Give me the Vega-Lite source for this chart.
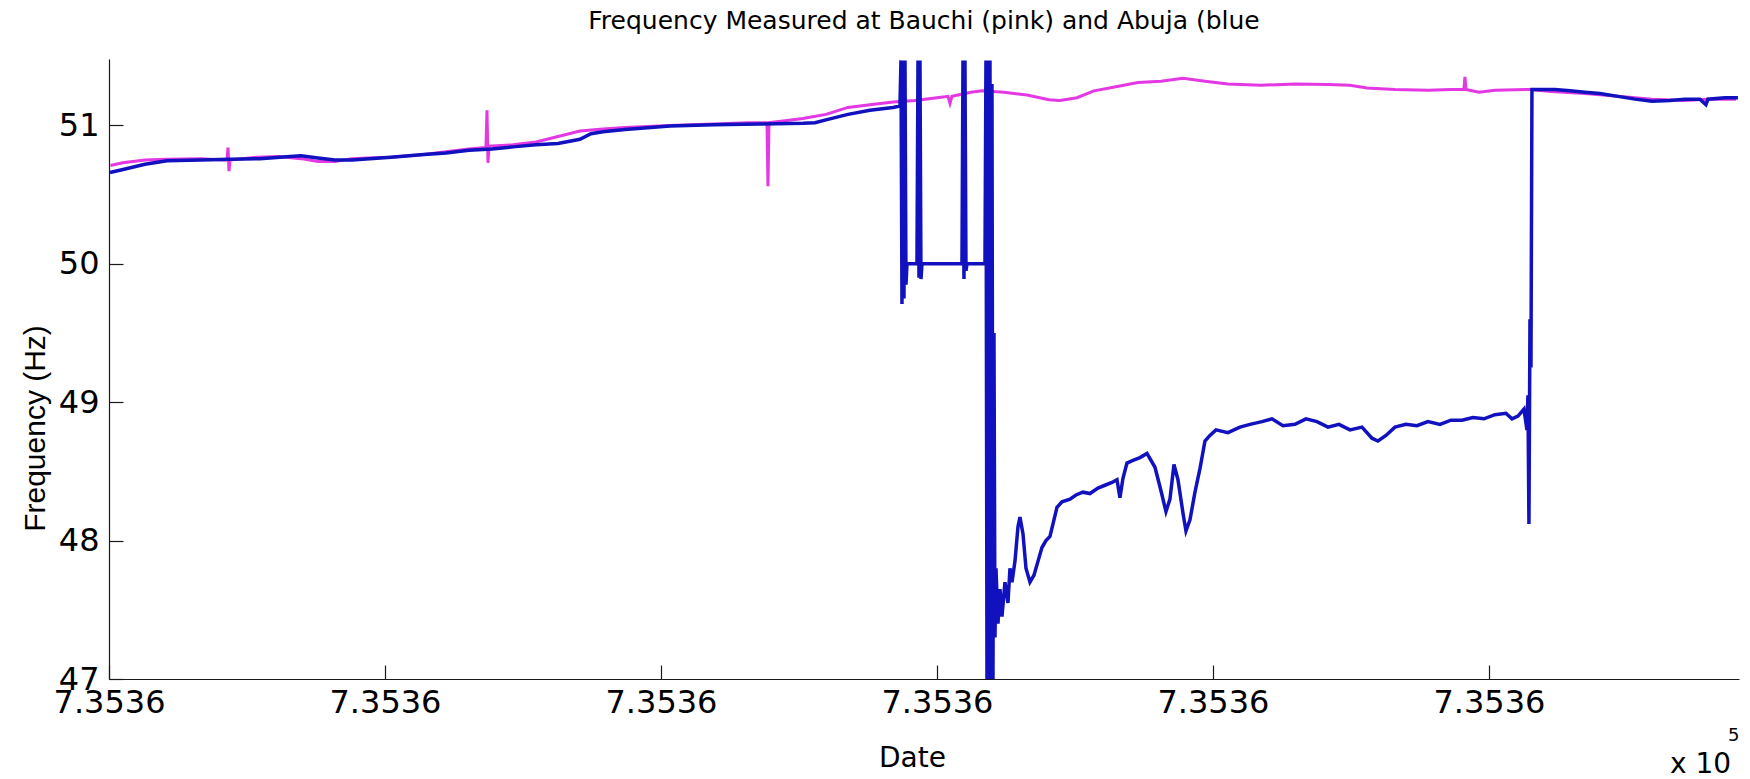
{
  "$schema": "https://vega.github.io/schema/vega-lite/v6.json",
  "width": 1630,
  "height": 620,
  "autosize": {"type": "none"},
  "padding": {"left": 109, "top": 59, "right": 11, "bottom": 100},
  "background": "white",
  "view": {"stroke": null},
  "title": {
    "text": "Frequency Measured at Bauchi (pink) and Abuja (blue",
    "font": "DejaVu Sans",
    "fontSize": 25,
    "fontWeight": "normal",
    "color": "black",
    "anchor": "middle",
    "baseline": "alphabetic",
    "offset": 24,
    "dy": 19
  },
  "config": {
    "axis": {
      "grid": false,
      "domainColor": "#1a1a1a",
      "domainWidth": 1.2,
      "tickColor": "#1a1a1a",
      "tickWidth": 1.2,
      "labelFont": "DejaVu Sans",
      "labelFontSize": 32,
      "labelColor": "black",
      "titleFont": "DejaVu Sans",
      "titleFontWeight": "normal",
      "titleColor": "black"
    }
  },
  "datasets": {
    "freq": [
      {"site": "Bauchi", "date": 735361.00054, "freq": 50.71},
      {"site": "Bauchi", "date": 735361.00500, "freq": 50.73},
      {"site": "Bauchi", "date": 735361.01304, "freq": 50.75},
      {"site": "Bauchi", "date": 735361.02101, "freq": 50.755},
      {"site": "Bauchi", "date": 735361.03333, "freq": 50.76},
      {"site": "Bauchi", "date": 735361.04130, "freq": 50.75},
      {"site": "Bauchi", "date": 735361.04275, "freq": 50.75},
      {"site": "Bauchi", "date": 735361.04312, "freq": 50.84},
      {"site": "Bauchi", "date": 735361.04348, "freq": 50.67},
      {"site": "Bauchi", "date": 735361.04384, "freq": 50.75},
      {"site": "Bauchi", "date": 735361.05362, "freq": 50.77},
      {"site": "Bauchi", "date": 735361.06159, "freq": 50.775},
      {"site": "Bauchi", "date": 735361.06957, "freq": 50.76},
      {"site": "Bauchi", "date": 735361.07572, "freq": 50.74},
      {"site": "Bauchi", "date": 735361.08188, "freq": 50.74},
      {"site": "Bauchi", "date": 735361.08804, "freq": 50.76},
      {"site": "Bauchi", "date": 735361.09384, "freq": 50.765},
      {"site": "Bauchi", "date": 735361.10217, "freq": 50.77},
      {"site": "Bauchi", "date": 735361.11413, "freq": 50.79},
      {"site": "Bauchi", "date": 735361.12210, "freq": 50.81},
      {"site": "Bauchi", "date": 735361.13043, "freq": 50.83},
      {"site": "Bauchi", "date": 735361.13659, "freq": 50.84},
      {"site": "Bauchi", "date": 735361.13696, "freq": 51.11},
      {"site": "Bauchi", "date": 735361.13732, "freq": 50.73},
      {"site": "Bauchi", "date": 735361.13768, "freq": 50.85},
      {"site": "Bauchi", "date": 735361.14638, "freq": 50.86},
      {"site": "Bauchi", "date": 735361.15471, "freq": 50.88},
      {"site": "Bauchi", "date": 735361.16268, "freq": 50.92},
      {"site": "Bauchi", "date": 735361.17065, "freq": 50.96},
      {"site": "Bauchi", "date": 735361.17899, "freq": 50.975},
      {"site": "Bauchi", "date": 735361.18696, "freq": 50.985},
      {"site": "Bauchi", "date": 735361.20326, "freq": 51.00},
      {"site": "Bauchi", "date": 735361.21920, "freq": 51.01},
      {"site": "Bauchi", "date": 735361.23152, "freq": 51.02},
      {"site": "Bauchi", "date": 735361.23841, "freq": 51.02},
      {"site": "Bauchi", "date": 735361.23877, "freq": 50.56},
      {"site": "Bauchi", "date": 735361.23913, "freq": 51.02},
      {"site": "Bauchi", "date": 735361.24348, "freq": 51.03},
      {"site": "Bauchi", "date": 735361.25145, "freq": 51.05},
      {"site": "Bauchi", "date": 735361.25978, "freq": 51.08},
      {"site": "Bauchi", "date": 735361.26775, "freq": 51.13},
      {"site": "Bauchi", "date": 735361.27572, "freq": 51.15},
      {"site": "Bauchi", "date": 735361.28406, "freq": 51.17},
      {"site": "Bauchi", "date": 735361.29203, "freq": 51.18},
      {"site": "Bauchi", "date": 735361.30000, "freq": 51.20},
      {"site": "Bauchi", "date": 735361.30399, "freq": 51.21},
      {"site": "Bauchi", "date": 735361.30471, "freq": 51.16},
      {"site": "Bauchi", "date": 735361.30543, "freq": 51.21},
      {"site": "Bauchi", "date": 735361.31232, "freq": 51.24},
      {"site": "Bauchi", "date": 735361.31630, "freq": 51.25},
      {"site": "Bauchi", "date": 735361.32029, "freq": 51.245},
      {"site": "Bauchi", "date": 735361.32428, "freq": 51.24},
      {"site": "Bauchi", "date": 735361.33261, "freq": 51.22},
      {"site": "Bauchi", "date": 735361.34058, "freq": 51.185},
      {"site": "Bauchi", "date": 735361.34457, "freq": 51.18},
      {"site": "Bauchi", "date": 735361.35072, "freq": 51.20},
      {"site": "Bauchi", "date": 735361.35688, "freq": 51.25},
      {"site": "Bauchi", "date": 735361.36486, "freq": 51.28},
      {"site": "Bauchi", "date": 735361.37283, "freq": 51.31},
      {"site": "Bauchi", "date": 735361.38116, "freq": 51.32},
      {"site": "Bauchi", "date": 735361.38913, "freq": 51.34},
      {"site": "Bauchi", "date": 735361.39710, "freq": 51.32},
      {"site": "Bauchi", "date": 735361.40543, "freq": 51.30},
      {"site": "Bauchi", "date": 735361.41739, "freq": 51.29},
      {"site": "Bauchi", "date": 735361.42971, "freq": 51.30},
      {"site": "Bauchi", "date": 735361.44167, "freq": 51.295},
      {"site": "Bauchi", "date": 735361.44964, "freq": 51.29},
      {"site": "Bauchi", "date": 735361.45580, "freq": 51.27},
      {"site": "Bauchi", "date": 735361.46594, "freq": 51.26},
      {"site": "Bauchi", "date": 735361.47790, "freq": 51.255},
      {"site": "Bauchi", "date": 735361.48623, "freq": 51.26},
      {"site": "Bauchi", "date": 735361.49094, "freq": 51.26},
      {"site": "Bauchi", "date": 735361.49130, "freq": 51.35},
      {"site": "Bauchi", "date": 735361.49167, "freq": 51.26},
      {"site": "Bauchi", "date": 735361.49638, "freq": 51.24},
      {"site": "Bauchi", "date": 735361.50217, "freq": 51.255},
      {"site": "Bauchi", "date": 735361.51486, "freq": 51.26},
      {"site": "Bauchi", "date": 735361.52246, "freq": 51.245},
      {"site": "Bauchi", "date": 735361.53478, "freq": 51.23},
      {"site": "Bauchi", "date": 735361.54674, "freq": 51.21},
      {"site": "Bauchi", "date": 735361.55906, "freq": 51.19},
      {"site": "Bauchi", "date": 735361.57101, "freq": 51.18},
      {"site": "Bauchi", "date": 735361.57899, "freq": 51.19},
      {"site": "Bauchi", "date": 735361.58949, "freq": 51.19},

      {"site": "Abuja", "date": 735361.00036, "freq": 50.66},
      {"site": "Abuja", "date": 735361.00471, "freq": 50.68},
      {"site": "Abuja", "date": 735361.01304, "freq": 50.72},
      {"site": "Abuja", "date": 735361.02101, "freq": 50.745},
      {"site": "Abuja", "date": 735361.03333, "freq": 50.75},
      {"site": "Abuja", "date": 735361.04384, "freq": 50.755},
      {"site": "Abuja", "date": 735361.05471, "freq": 50.76},
      {"site": "Abuja", "date": 735361.06558, "freq": 50.775},
      {"site": "Abuja", "date": 735361.06957, "freq": 50.78},
      {"site": "Abuja", "date": 735361.07572, "freq": 50.765},
      {"site": "Abuja", "date": 735361.08188, "freq": 50.75},
      {"site": "Abuja", "date": 735361.08804, "freq": 50.75},
      {"site": "Abuja", "date": 735361.10217, "freq": 50.77},
      {"site": "Abuja", "date": 735361.11413, "freq": 50.79},
      {"site": "Abuja", "date": 735361.12210, "freq": 50.80},
      {"site": "Abuja", "date": 735361.13043, "freq": 50.82},
      {"site": "Abuja", "date": 735361.13877, "freq": 50.83},
      {"site": "Abuja", "date": 735361.14638, "freq": 50.845},
      {"site": "Abuja", "date": 735361.15471, "freq": 50.86},
      {"site": "Abuja", "date": 735361.16268, "freq": 50.87},
      {"site": "Abuja", "date": 735361.17065, "freq": 50.90},
      {"site": "Abuja", "date": 735361.17464, "freq": 50.94},
      {"site": "Abuja", "date": 735361.17899, "freq": 50.955},
      {"site": "Abuja", "date": 735361.18696, "freq": 50.97},
      {"site": "Abuja", "date": 735361.20326, "freq": 50.995},
      {"site": "Abuja", "date": 735361.21920, "freq": 51.005},
      {"site": "Abuja", "date": 735361.23551, "freq": 51.01},
      {"site": "Abuja", "date": 735361.25145, "freq": 51.015},
      {"site": "Abuja", "date": 735361.25580, "freq": 51.02},
      {"site": "Abuja", "date": 735361.25978, "freq": 51.04},
      {"site": "Abuja", "date": 735361.26775, "freq": 51.08},
      {"site": "Abuja", "date": 735361.27572, "freq": 51.11},
      {"site": "Abuja", "date": 735361.28406, "freq": 51.13},
      {"site": "Abuja", "date": 735361.28659, "freq": 51.14},
      {"site": "Abuja", "date": 735361.28696, "freq": 51.47},
      {"site": "Abuja", "date": 735361.28732, "freq": 49.71},
      {"site": "Abuja", "date": 735361.28768, "freq": 51.47},
      {"site": "Abuja", "date": 735361.28804, "freq": 49.75},
      {"site": "Abuja", "date": 735361.28841, "freq": 51.47},
      {"site": "Abuja", "date": 735361.28877, "freq": 49.85},
      {"site": "Abuja", "date": 735361.28913, "freq": 50.0},
      {"site": "Abuja", "date": 735361.29275, "freq": 50.0},
      {"site": "Abuja", "date": 735361.29312, "freq": 51.47},
      {"site": "Abuja", "date": 735361.29348, "freq": 49.9},
      {"site": "Abuja", "date": 735361.29384, "freq": 51.47},
      {"site": "Abuja", "date": 735361.29420, "freq": 49.89},
      {"site": "Abuja", "date": 735361.29457, "freq": 50.0},
      {"site": "Abuja", "date": 735361.30906, "freq": 50.0},
      {"site": "Abuja", "date": 735361.30942, "freq": 51.47},
      {"site": "Abuja", "date": 735361.30978, "freq": 49.89},
      {"site": "Abuja", "date": 735361.31014, "freq": 51.47},
      {"site": "Abuja", "date": 735361.31051, "freq": 49.95},
      {"site": "Abuja", "date": 735361.31087, "freq": 50.0},
      {"site": "Abuja", "date": 735361.31739, "freq": 50.0},
      {"site": "Abuja", "date": 735361.31775, "freq": 51.47},
      {"site": "Abuja", "date": 735361.31812, "freq": 47.0},
      {"site": "Abuja", "date": 735361.31848, "freq": 51.47},
      {"site": "Abuja", "date": 735361.31884, "freq": 47.0},
      {"site": "Abuja", "date": 735361.31920, "freq": 51.47},
      {"site": "Abuja", "date": 735361.31957, "freq": 47.0},
      {"site": "Abuja", "date": 735361.31993, "freq": 51.3},
      {"site": "Abuja", "date": 735361.32029, "freq": 47.0},
      {"site": "Abuja", "date": 735361.32065, "freq": 49.5},
      {"site": "Abuja", "date": 735361.32101, "freq": 47.3},
      {"site": "Abuja", "date": 735361.32138, "freq": 47.8},
      {"site": "Abuja", "date": 735361.32210, "freq": 47.4},
      {"site": "Abuja", "date": 735361.32283, "freq": 47.65},
      {"site": "Abuja", "date": 735361.32355, "freq": 47.45},
      {"site": "Abuja", "date": 735361.32464, "freq": 47.7},
      {"site": "Abuja", "date": 735361.32572, "freq": 47.55},
      {"site": "Abuja", "date": 735361.32645, "freq": 47.8},
      {"site": "Abuja", "date": 735361.32717, "freq": 47.7},
      {"site": "Abuja", "date": 735361.32826, "freq": 47.85},
      {"site": "Abuja", "date": 735361.32935, "freq": 48.1},
      {"site": "Abuja", "date": 735361.33007, "freq": 48.17},
      {"site": "Abuja", "date": 735361.33116, "freq": 48.05},
      {"site": "Abuja", "date": 735361.33225, "freq": 47.8},
      {"site": "Abuja", "date": 735361.33370, "freq": 47.70},
      {"site": "Abuja", "date": 735361.33514, "freq": 47.75},
      {"site": "Abuja", "date": 735361.33659, "freq": 47.85},
      {"site": "Abuja", "date": 735361.33804, "freq": 47.95},
      {"site": "Abuja", "date": 735361.33949, "freq": 48.0},
      {"site": "Abuja", "date": 735361.34094, "freq": 48.03},
      {"site": "Abuja", "date": 735361.34239, "freq": 48.15},
      {"site": "Abuja", "date": 735361.34348, "freq": 48.24},
      {"site": "Abuja", "date": 735361.34529, "freq": 48.28},
      {"site": "Abuja", "date": 735361.34819, "freq": 48.30},
      {"site": "Abuja", "date": 735361.35036, "freq": 48.33},
      {"site": "Abuja", "date": 735361.35290, "freq": 48.35},
      {"site": "Abuja", "date": 735361.35543, "freq": 48.34},
      {"site": "Abuja", "date": 735361.35833, "freq": 48.38},
      {"site": "Abuja", "date": 735361.36087, "freq": 48.40},
      {"site": "Abuja", "date": 735361.36341, "freq": 48.42},
      {"site": "Abuja", "date": 735361.36522, "freq": 48.44},
      {"site": "Abuja", "date": 735361.36630, "freq": 48.31},
      {"site": "Abuja", "date": 735361.36739, "freq": 48.45},
      {"site": "Abuja", "date": 735361.36884, "freq": 48.56},
      {"site": "Abuja", "date": 735361.37101, "freq": 48.58},
      {"site": "Abuja", "date": 735361.37355, "freq": 48.60},
      {"site": "Abuja", "date": 735361.37609, "freq": 48.63},
      {"site": "Abuja", "date": 735361.37899, "freq": 48.53},
      {"site": "Abuja", "date": 735361.38116, "freq": 48.36},
      {"site": "Abuja", "date": 735361.38297, "freq": 48.21},
      {"site": "Abuja", "date": 735361.38442, "freq": 48.30},
      {"site": "Abuja", "date": 735361.38587, "freq": 48.55},
      {"site": "Abuja", "date": 735361.38732, "freq": 48.44},
      {"site": "Abuja", "date": 735361.38913, "freq": 48.20},
      {"site": "Abuja", "date": 735361.39022, "freq": 48.07},
      {"site": "Abuja", "date": 735361.39167, "freq": 48.15},
      {"site": "Abuja", "date": 735361.39348, "freq": 48.35},
      {"site": "Abuja", "date": 735361.39529, "freq": 48.52},
      {"site": "Abuja", "date": 735361.39710, "freq": 48.72},
      {"site": "Abuja", "date": 735361.39891, "freq": 48.76},
      {"site": "Abuja", "date": 735361.40109, "freq": 48.80},
      {"site": "Abuja", "date": 735361.40543, "freq": 48.78},
      {"site": "Abuja", "date": 735361.40978, "freq": 48.82},
      {"site": "Abuja", "date": 735361.41341, "freq": 48.84},
      {"site": "Abuja", "date": 735361.41775, "freq": 48.86},
      {"site": "Abuja", "date": 735361.42138, "freq": 48.88},
      {"site": "Abuja", "date": 735361.42536, "freq": 48.83},
      {"site": "Abuja", "date": 735361.42971, "freq": 48.84},
      {"site": "Abuja", "date": 735361.43370, "freq": 48.88},
      {"site": "Abuja", "date": 735361.43768, "freq": 48.86},
      {"site": "Abuja", "date": 735361.44167, "freq": 48.82},
      {"site": "Abuja", "date": 735361.44565, "freq": 48.84},
      {"site": "Abuja", "date": 735361.44964, "freq": 48.80},
      {"site": "Abuja", "date": 735361.45399, "freq": 48.82},
      {"site": "Abuja", "date": 735361.45761, "freq": 48.74},
      {"site": "Abuja", "date": 735361.45978, "freq": 48.72},
      {"site": "Abuja", "date": 735361.46268, "freq": 48.76},
      {"site": "Abuja", "date": 735361.46594, "freq": 48.82},
      {"site": "Abuja", "date": 735361.46993, "freq": 48.84},
      {"site": "Abuja", "date": 735361.47391, "freq": 48.83},
      {"site": "Abuja", "date": 735361.47790, "freq": 48.86},
      {"site": "Abuja", "date": 735361.48225, "freq": 48.84},
      {"site": "Abuja", "date": 735361.48623, "freq": 48.87},
      {"site": "Abuja", "date": 735361.49022, "freq": 48.87},
      {"site": "Abuja", "date": 735361.49420, "freq": 48.89},
      {"site": "Abuja", "date": 735361.49819, "freq": 48.88},
      {"site": "Abuja", "date": 735361.50217, "freq": 48.91},
      {"site": "Abuja", "date": 735361.50616, "freq": 48.92},
      {"site": "Abuja", "date": 735361.50833, "freq": 48.88},
      {"site": "Abuja", "date": 735361.51051, "freq": 48.90},
      {"site": "Abuja", "date": 735361.51268, "freq": 48.95},
      {"site": "Abuja", "date": 735361.51377, "freq": 48.80},
      {"site": "Abuja", "date": 735361.51413, "freq": 49.05},
      {"site": "Abuja", "date": 735361.51449, "freq": 48.12},
      {"site": "Abuja", "date": 735361.51486, "freq": 49.60},
      {"site": "Abuja", "date": 735361.51522, "freq": 49.25},
      {"site": "Abuja", "date": 735361.51558, "freq": 51.26},
      {"site": "Abuja", "date": 735361.51848, "freq": 51.26},
      {"site": "Abuja", "date": 735361.52391, "freq": 51.26},
      {"site": "Abuja", "date": 735361.52935, "freq": 51.25},
      {"site": "Abuja", "date": 735361.53478, "freq": 51.24},
      {"site": "Abuja", "date": 735361.54022, "freq": 51.23},
      {"site": "Abuja", "date": 735361.54674, "freq": 51.21},
      {"site": "Abuja", "date": 735361.55290, "freq": 51.19},
      {"site": "Abuja", "date": 735361.55906, "freq": 51.175},
      {"site": "Abuja", "date": 735361.56558, "freq": 51.18},
      {"site": "Abuja", "date": 735361.57101, "freq": 51.19},
      {"site": "Abuja", "date": 735361.57645, "freq": 51.19},
      {"site": "Abuja", "date": 735361.57862, "freq": 51.15},
      {"site": "Abuja", "date": 735361.57935, "freq": 51.19},
      {"site": "Abuja", "date": 735361.58551, "freq": 51.20},
      {"site": "Abuja", "date": 735361.59022, "freq": 51.20}
    ],
    "exponent": [
      {"label": "x 10", "size": "base"},
      {"label": "5", "size": "sup"}
    ]
  },
  "layer": [
    {
      "data": {"name": "freq"},
      "transform": [{"filter": "datum.site === 'Bauchi'"}],
      "mark": {"type": "line", "strokeWidth": 3, "clip": true, "color": "#e338e3"},
      "encoding": {
        "x": {
          "field": "date",
          "type": "quantitative",
          "scale": {"domain": [735361, 735361.5906], "nice": false, "zero": false},
          "axis": {
            "title": "Date",
            "titleFontSize": 28,
            "titleX": 803,
            "titleY": 87,
            "titleBaseline": "alphabetic",
            "values": [735361, 735361.1, 735361.2, 735361.3, 735361.4, 735361.5],
            "labelExpr": "format(datum.value / 100000, '.4f')",
            "labelFlush": false,
            "labelOverlap": false,
            "tickSize": -14,
            "labelPadding": 22
          }
        },
        "y": {
          "field": "freq",
          "type": "quantitative",
          "scale": {"domain": [47, 51.48], "nice": false, "zero": false},
          "axis": {
            "title": "Frequency (Hz)",
            "titleFont": "Liberation Sans",
            "titleFontSize": 30,
            "titleX": -65,
            "titleY": 369,
            "titleBaseline": "alphabetic",
            "values": [47, 48, 49, 50, 51],
            "format": "d",
            "labelOverlap": false,
            "labelFlush": false,
            "tickSize": -14,
            "labelPadding": 24
          }
        }
      }
    },
    {
      "data": {"name": "freq"},
      "transform": [{"filter": "datum.site === 'Abuja'"}],
      "mark": {"type": "line", "strokeWidth": 3.5, "clip": true, "color": "#1111bf"},
      "encoding": {
        "x": {"field": "date", "type": "quantitative"},
        "y": {"field": "freq", "type": "quantitative"}
      }
    },
    {
      "data": {"name": "exponent"},
      "transform": [{"filter": "datum.size === 'base'"}],
      "mark": {"type": "text", "font": "DejaVu Sans", "fontSize": 28, "color": "black", "align": "left", "baseline": "alphabetic", "dx": -69, "dy": 94},
      "encoding": {
        "x": {"datum": 735361.5906, "type": "quantitative"},
        "y": {"datum": 47, "type": "quantitative"},
        "text": {"field": "label", "type": "nominal"}
      }
    },
    {
      "data": {"name": "exponent"},
      "transform": [{"filter": "datum.size === 'sup'"}],
      "mark": {"type": "text", "font": "DejaVu Sans", "fontSize": 18, "color": "black", "align": "left", "baseline": "alphabetic", "dx": -11, "dy": 62},
      "encoding": {
        "x": {"datum": 735361.5906, "type": "quantitative"},
        "y": {"datum": 47, "type": "quantitative"},
        "text": {"field": "label", "type": "nominal"}
      }
    }
  ]
}
